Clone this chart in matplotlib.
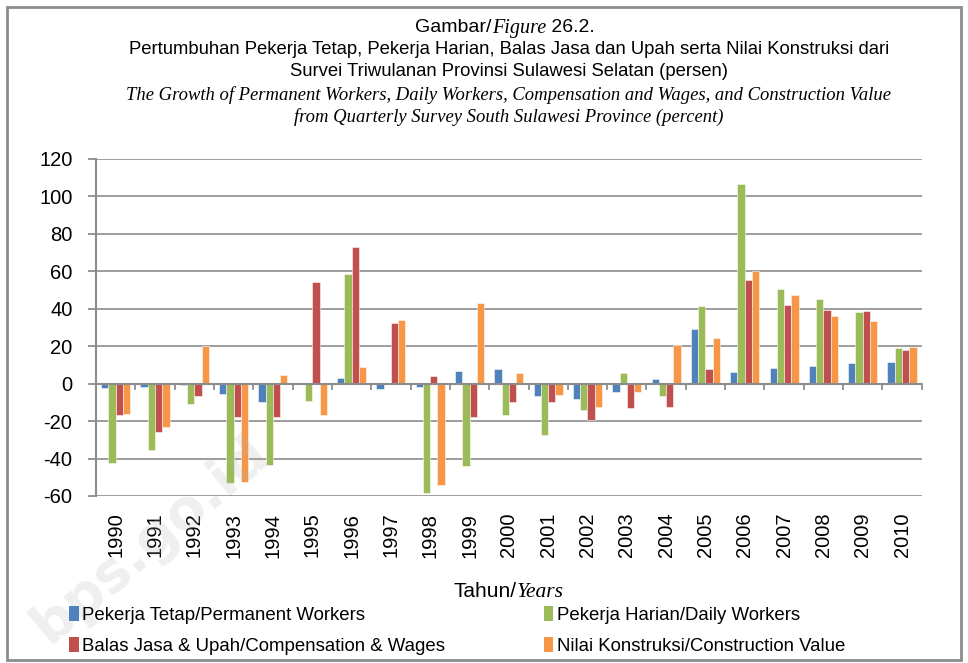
import matplotlib
matplotlib.use("Agg")
import matplotlib.pyplot as plt
import numpy as np
from matplotlib.offsetbox import TextArea, HPacker, AnnotationBbox
from matplotlib.patches import Rectangle, Patch

# Data: pertumbuhan (persen) per tahun
years = [str(y) for y in range(1990, 2011)]
pekerja_tetap = [-2.1, -1.8, -0.8, -5.7, -10.0, 0.0, 2.8, -2.8, -1.9, 6.5, 7.8,
                 -6.4, -8.3, -4.6, 2.5, 29.4, 6.4, 8.3, 9.7, 10.8, 11.5]
pekerja_harian = [-42.3, -35.6, -10.6, -53.0, -43.4, -9.0, 58.6, 0.0, -58.4, -44.0, -16.8,
                  -27.3, -13.8, 5.8, -6.4, 41.6, 106.5, 50.4, 45.0, 38.2, 18.9]
balas_jasa = [-17.0, -26.0, -6.4, -18.0, -18.0, 54.2, 73.1, 32.4, 4.1, -17.9, -10.0,
              -9.7, -19.6, -13.1, -12.7, 8.0, 55.6, 41.9, 39.3, 38.6, 17.9]
nilai_konstruksi = [-16.0, -23.0, 20.2, -52.5, 4.8, -16.5, 8.8, 33.8, -54.2, 43.2, 5.5,
                    -5.8, -12.7, -4.2, 20.5, 24.6, 60.4, 47.6, 36.3, 33.5, 19.6]

series_labels = ["Pekerja Tetap/Permanent Workers", "Pekerja Harian/Daily Workers",
                 "Balas Jasa & Upah/Compensation & Wages", "Nilai Konstruksi/Construction Value"]
colors = ["#4F81BD", "#9BBB59", "#C0504D", "#F79646"]

SANS = "Liberation Sans"
SERIF = "Liberation Serif"
plt.rcParams['font.family'] = SANS
plt.rcParams['axes.unicode_minus'] = False

W, H = 968, 663
fig = plt.figure(figsize=(W / 100, H / 100), dpi=100)
fig.patch.set_facecolor("white")

# frame around the whole figure
fig.add_artist(Rectangle((7 / W, 3 / H), 954 / W, 653 / H, transform=fig.transFigure,
                         fill=False, edgecolor="#8c8c8c", lw=2))

ax = fig.add_axes([96 / W, 1 - 496 / H, (921.7 - 96) / W, (496 - 159) / H])

x = np.arange(len(years))
bw = 0.185
all_series = [pekerja_tetap, pekerja_harian, balas_jasa, nilai_konstruksi]
for i, (vals, c) in enumerate(zip(all_series, colors)):
    ax.bar(x + (i - 1.5) * bw, vals, width=bw, color=c, edgecolor=(1, 1, 1, 0.6),
           linewidth=0.6, zorder=3)

ax.set_xlim(-0.5, len(years) - 0.5)
ax.set_ylim(-60, 120)
ax.set_yticks(range(-60, 121, 20))
ax.grid(axis="y", color="#8c8c8c", lw=1.2, zorder=0)
ax.set_axisbelow(True)

for s in ["top", "right", "bottom"]:
    ax.spines[s].set_visible(False)
ax.spines["left"].set_color("#8c8c8c")
ax.spines["left"].set_linewidth(1.5)

# horizontal axis line at zero with tick marks between categories
ax.axhline(0, color="#8c8c8c", lw=1.5, zorder=4)
for b in np.arange(-0.5, len(years), 1.0)[1:]:
    ax.plot([b, b], [0, -2.8], color="#8c8c8c", lw=1.3, zorder=4, clip_on=False)

ax.tick_params(axis="y", length=6, color="#8c8c8c", width=1.3, labelsize=14.5, pad=11)
ax.tick_params(axis="x", length=0, labelsize=14.5, pad=12)
ax.set_xticks(x)
ax.set_xticklabels(years, rotation=90, va="top", ha="center")


def mixed(parts, xy, align=(0.5, 0.5)):
    boxes = [TextArea(s, textprops=dict(family=fam, style=st, size=sz, color="black"))
             for s, fam, st, sz in parts]
    pack = HPacker(children=boxes, align="baseline", pad=0, sep=0)
    ab = AnnotationBbox(pack, xy, xycoords="figure pixels", frameon=False,
                        box_alignment=align, annotation_clip=False)
    ax.add_artist(ab)


# titles
mixed([("Gambar/", SANS, "normal", 14), ("Figure", SERIF, "italic", 14.5),
       (" 26.2.", SANS, "normal", 14)], (505, H - 28))
fig.text(509 / W, 1 - 49 / H, "Pertumbuhan Pekerja Tetap, Pekerja Harian, Balas Jasa dan Upah serta Nilai Konstruksi dari",
         ha="center", va="center", fontsize=13.3, family=SANS)
fig.text(509 / W, 1 - 72 / H, "Survei Triwulanan Provinsi Sulawesi Selatan (persen)",
         ha="center", va="center", fontsize=13.3, family=SANS)
fig.text(509 / W, 1 - 95 / H,
         "The Growth of Permanent Workers, Daily Workers, Compensation and Wages, and Construction Value",
         ha="center", va="center", fontsize=13.4, family=SERIF, style="italic")
fig.text(509 / W, 1 - 117 / H, "from Quarterly Survey South Sulawesi Province (percent)",
         ha="center", va="center", fontsize=13.4, family=SERIF, style="italic")

# x axis title
mixed([("Tahun/", SANS, "normal", 15), ("Years", SERIF, "italic", 15.5)], (509, H - 592))

# legend, filled row by row
handles = [Patch(facecolor=c, edgecolor="none") for c in colors]
order = [0, 2, 1, 3]
leg = fig.legend([handles[i] for i in order], [series_labels[i] for i in order],
                 ncol=2, loc="upper left", bbox_to_anchor=(60 / W, 1 - 597 / H),
                 frameon=False, fontsize=13.4, handlelength=0.5, handleheight=0.85,
                 handletextpad=0.2, columnspacing=5.3, labelspacing=0.68, borderpad=0)

# faint watermark
fig.text(150 / W, 1 - 540 / H, "bps.go.id", rotation=40, ha="center", va="center",
         fontsize=40, fontweight="bold", color="#b0b0b0", alpha=0.2, family="DejaVu Sans")

fig.savefig("out.png", dpi=100)
